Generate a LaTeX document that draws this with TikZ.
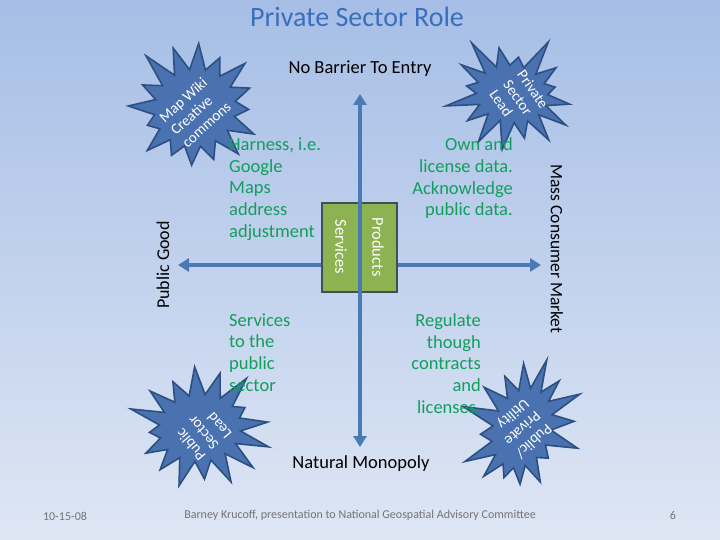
\documentclass[tikz,border=0pt]{standalone}
\usepackage{fontspec}
\setmainfont{Carlito}
\usetikzlibrary{shapes.symbols,arrows.meta}
\definecolor{bgtop}{RGB}{166,190,230}
\definecolor{bgbot}{RGB}{222,230,244}
\definecolor{burstfill}{RGB}{74,114,176}
\definecolor{burstedge}{RGB}{44,80,130}
\definecolor{axiscol}{RGB}{74,122,182}
\definecolor{gtext}{RGB}{18,158,92}
\definecolor{boxg}{RGB}{140,178,82}
\definecolor{boxedge}{RGB}{60,80,90}
\definecolor{titleblue}{RGB}{58,110,190}
\definecolor{footcol}{RGB}{115,115,115}
\tikzset{
  burst/.style={starburst, starburst points=16, starburst point height=34pt,
    minimum width=150pt, minimum height=145pt, fill=burstfill, draw=burstedge,
    line width=1.6pt, inner sep=0pt},
  bursttext/.style={text=white, font=\fontsize{15}{17}\selectfont, align=left, inner sep=0pt},
  gblock/.style={text=gtext, font=\fontsize{18.5}{21.7}\selectfont, inner sep=0pt},
  axisline/.style={draw=axiscol, line width=3.5pt, {Triangle[width=13pt,length=11pt]}-{Triangle[width=13pt,length=11pt]}},
  axislabel/.style={text=black, font=\fontsize{18}{20}\selectfont, inner sep=0pt},
  prodbox/.style={fill=boxg, draw=boxedge, line width=2pt},
  boxlabel/.style={text=white, font=\fontsize{16.5}{18}\selectfont, inner sep=0pt},
  footer/.style={text=footcol, font=\fontsize{12}{14}\selectfont, inner sep=0pt}
}
\begin{document}
\begin{tikzpicture}[x=1pt,y=-1pt]
\shade[top color=bgtop,bottom color=bgbot] (0,0) rectangle (720,540);
\useasboundingbox (0,0) rectangle (720,540);

% title
\node[text=titleblue, font=\fontsize{28}{32}\selectfont, inner sep=0pt] (title) at (357,17) {Private Sector Role};

% bursts
\node[burst, random starburst=11, rotate=20] (b1) at (195,108) {};
\node[burst, random starburst=23, rotate=-10, minimum width=140pt, minimum height=125pt] (b2) at (512,94) {};
\node[burst, random starburst=37, rotate=5, minimum height=135pt] (b3) at (200,428) {};
\node[burst, random starburst=53, rotate=-20, minimum width=125pt, minimum height=150pt] (b4) at (522,428) {};
\node[bursttext, rotate=42, align=left] (t1) at (195,112) {Map Wiki\\Creative\\commons};
\node[bursttext, rotate=-55, align=left] (t2) at (519,99) {Private\\Sector\\Lead};
\node[bursttext, rotate=130, align=left] (t3) at (203,433) {Public\\Sector\\Lead};
\node[bursttext, rotate=-138, align=left] (t4) at (522,428) {Public/\\Private\\Utility};

% axes
\coordinate (L) at (178,265);
\coordinate (R) at (541,265);
\coordinate (T) at (360,94);
\coordinate (B) at (360,447);
\draw[axisline] (L) -- (R);
\draw[prodbox] (322,203) rectangle (397,292);
\node (box) at (359.5,247.5) {};
\draw[axisline] (T) -- (B);
\node[boxlabel, rotate=-90] (serv) at (341,247) {Services};
\node[boxlabel, rotate=-90] (prod) at (378,247) {Products};

% axis labels
\node[axislabel, font=\fontsize{18.5}{20}\selectfont] (nb) at (360,69) {No Barrier To Entry};
\node[axislabel, font=\fontsize{18.5}{20}\selectfont] (nm) at (361,464) {Natural Monopoly};
\node[axislabel, rotate=90] (pg) at (163,265) {Public Good};
\node[axislabel, font=\fontsize{17.5}{19}\selectfont, rotate=-90] (mcm) at (557,249) {Mass Consumer Market};

% quadrant texts
\node[gblock, anchor=west, align=left] (q1) at (229,189) {Harness, i.e.\\Google\\Maps\\address\\adjustment};
\node[gblock, anchor=east, align=right] (q2) at (513,178.5) {Own and\\license data.\\Acknowledge\\public data.};
\node[gblock, anchor=west, align=left] (q3) at (229,352.5) {Services\\to the\\public\\sector};
\node[gblock, anchor=east, align=right] (q4) at (481,363.5) {Regulate\\though\\contracts\\and\\licenses.};

% footer
\node[footer] (date) at (65,516) {10-15-08};
\node[footer] (cred) at (360,515) {Barney Krucoff, presentation to National Geospatial Advisory Committee};
\node[footer] (page) at (673,515) {6};
\end{tikzpicture}
\end{document}
